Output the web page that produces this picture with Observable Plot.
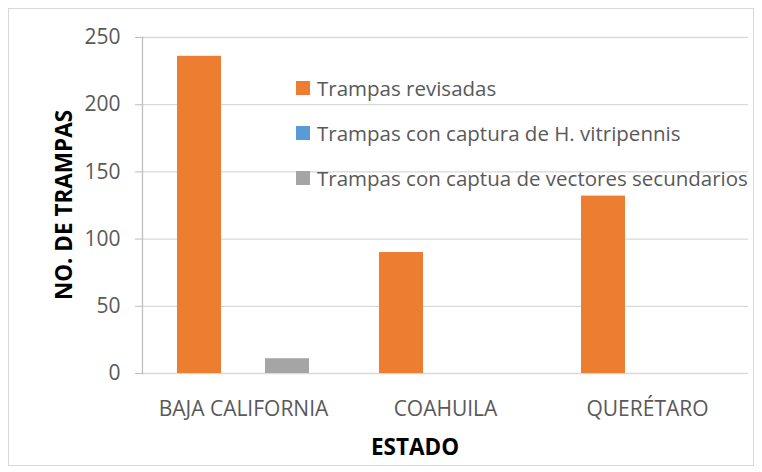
<!DOCTYPE html>
<html><head><meta charset="utf-8">
<script src="https://cdn.jsdelivr.net/npm/d3@7"></script>
<script src="https://cdn.jsdelivr.net/npm/@observablehq/plot@0.6"></script>
<style>
body{margin:0;background:#fff;}
#wrap{position:relative;width:762px;height:472px;font-family:"Open Sans",sans-serif;overflow:hidden;}
#border{position:absolute;left:8px;top:8px;width:746px;height:458px;border:1px solid #d9d9d9;box-sizing:border-box;pointer-events:none;}
#chart{position:absolute;left:0;top:0;}
.ytitle{position:absolute;left:63px;top:205px;transform:translate(-50%,-50%) rotate(-90deg);white-space:nowrap;font-weight:bold;font-size:22.5px;color:#000;}
.xtitle{position:absolute;left:415px;top:446px;transform:translate(-50%,-50%);white-space:nowrap;font-weight:bold;font-size:22.5px;color:#000;}
#legend{position:absolute;left:296px;top:75px;font-size:20.5px;color:#595959;}
#legend .row{display:flex;align-items:center;height:26px;margin-bottom:19px;white-space:nowrap;}
#legend .sw{width:14px;height:14px;margin-right:7px;flex:none;}
</style>
</head><body>
<div id="wrap">
  <div id="chart"></div>
  <div id="border"></div>
  <div class="ytitle">NO. DE TRAMPAS</div>
  <div class="xtitle">ESTADO</div>
  <div id="legend"></div>
</div>
<script>
const estados = ["BAJA CALIFORNIA", "COAHUILA", "QUERÉTARO"];
const series = ["Trampas revisadas", "Trampas con captura de H. vitripennis", "Trampas con captua de vectores secundarios"];
const revisadas = [236, 90, 132];
const capturaH = [0, 0, 0];
const secundarios = [11, 0, 0];
const colors = ["#ED7D31", "#5B9BD5", "#A5A5A5"];
const yTicks = [0, 50, 100, 150, 200, 250];

const valuesBySeries = [revisadas, capturaH, secundarios];
const rows = [];
estados.forEach((e, i) => {
  series.forEach((s, j) => rows.push({estado: e, serie: s, valor: valuesBySeries[j][i]}));
});

const chart = Plot.plot({
  width: 762, height: 472,
  marginLeft: 142, marginRight: 14, marginTop: 37, marginBottom: 99,
  style: {fontFamily: "'Open Sans', sans-serif", fontSize: "21px", color: "#595959", background: "transparent"},
  fx: {domain: estados, padding: 0, label: null},
  x: {domain: series, axis: null, paddingInner: 0, paddingOuter: 0.75},
  y: {domain: [0, 250], label: null},
  color: {domain: series, range: colors},
  marks: [
    Plot.gridY(yTicks, {stroke: "#d9d9d9", strokeOpacity: 1, strokeWidth: 1.3}),
    Plot.axisY(yTicks, {tickSize: 7, tickPadding: 15, stroke: "#bfbfbf", fill: "#595959", fontSize: 21, label: null}),
    Plot.axisFx({anchor: "bottom", tickSize: 0, tickPadding: 28, label: null, fill: "#595959", fontSize: 21}),
    Plot.barY(rows, {fx: "estado", x: "serie", y: "valor", fill: "serie"}),
    Plot.frame({anchor: "left", facetAnchor: "left", stroke: "#bfbfbf", strokeWidth: 1.3})
  ]
});
document.getElementById("chart").appendChild(chart);

const legend = document.getElementById("legend");
series.forEach((s, j) => {
  const row = document.createElement("div");
  row.className = "row";
  const sw = document.createElement("div");
  sw.className = "sw";
  sw.style.background = colors[j];
  const t = document.createElement("span");
  t.textContent = s;
  row.appendChild(sw); row.appendChild(t);
  legend.appendChild(row);
});
</script>
</body></html>
